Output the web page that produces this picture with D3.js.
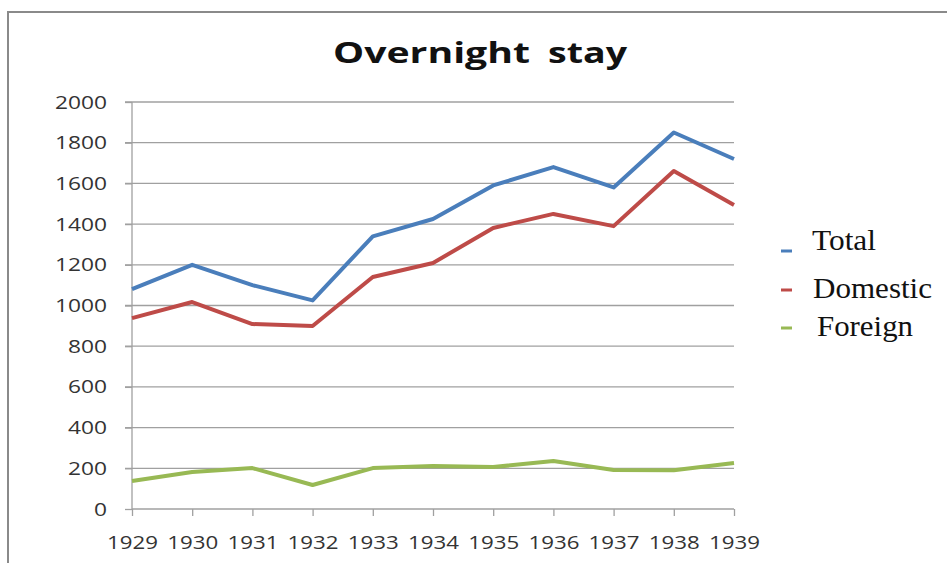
<!DOCTYPE html>
<html><head><meta charset="utf-8">
<script src="https://cdn.jsdelivr.net/npm/d3@7"></script>
<style>body{margin:0;background:#fff}svg{display:block}</style>
</head><body>
<svg id="c" width="947" height="563"></svg>
<script>
const years = ["1929","1930","1931","1932","1933","1934","1935","1936","1937","1938","1939"];
const total = [1080,1200,1100,1025,1340,1425,1590,1680,1580,1850,1720];
const domestic = [938,1017,909,899,1140,1209,1381,1450,1390,1661,1494];
const foreign = [138,182,201,118,201,211,206,236,192,190,226];
const yTicks = [0,200,400,600,800,1000,1200,1400,1600,1800,2000];
const seriesNames = ["Total","Domestic","Foreign"];
const colors = ["#4a7ebb","#be4b48","#98b954"];
const titleWords = ["Overnight","stay"];

const svg = d3.select("#c");
svg.append("path").attr("d","M8,563V12H947").attr("fill","none").attr("stroke","#8a8a8a").attr("stroke-width",2);

const x = d3.scalePoint().domain(years).range([132,734]);
const y = d3.scaleLinear().domain([0,2000]).range([509,102]);

svg.append("g").selectAll("line").data(yTicks.filter(d=>d>0)).join("line")
  .attr("x1",125).attr("x2",734).attr("y1",d=>y(d)).attr("y2",d=>y(d))
  .attr("stroke","#a0a0a0").attr("stroke-width",1.3);

const ya = svg.append("g").attr("transform","translate(132,0)")
  .call(d3.axisLeft(y).tickValues(yTicks).tickFormat(d3.format("d")).tickSize(7).tickPadding(18));
ya.select(".domain").attr("stroke","#a0a0a0").attr("stroke-width",1.3).attr("d","M0,102V509");
ya.selectAll(".tick line").attr("stroke","#a0a0a0").attr("stroke-width",1.3);
ya.selectAll("text").attr("font-family","'Open Sans',sans-serif").attr("font-size",19).attr("fill","#333")
  .attr("textLength",d=>13*String(d).length).attr("lengthAdjust","spacingAndGlyphs");

const xa = svg.append("g").attr("transform","translate(0,509)")
  .call(d3.axisBottom(x).tickSize(7).tickPadding(20));
xa.select(".domain").attr("stroke","#a0a0a0").attr("stroke-width",1.3).attr("d","M132,0H734");
xa.selectAll(".tick line").attr("stroke","#a0a0a0").attr("stroke-width",1.3);
xa.selectAll("text").attr("font-family","'Open Sans',sans-serif").attr("font-size",19).attr("fill","#333")
  .attr("textLength",51).attr("lengthAdjust","spacingAndGlyphs");

const data = [total,domestic,foreign];
const line = d3.line().x((d,i)=>x(years[i])).y(d=>y(d));
svg.append("g").selectAll("path").data(data).join("path")
  .attr("d",line).attr("fill","none").attr("stroke",(d,i)=>colors[i])
  .attr("stroke-width",4).attr("stroke-linejoin","round");

const t = svg.append("text").attr("y",63)
  .attr("font-family","'Open Sans',sans-serif").attr("font-weight","bold").attr("font-size",28)
  .attr("fill","#111");
t.append("tspan").attr("x",333).attr("textLength",197).attr("lengthAdjust","spacingAndGlyphs").text(titleWords[0]);
t.append("tspan").text(" ").attr("font-size",1);
t.append("tspan").attr("x",548).attr("textLength",79).attr("lengthAdjust","spacingAndGlyphs").text(titleWords[1]);

const ly = [251,290,328];
const tb = [250,298,336];
const lx = [812,813,817];
const lw = [64,119,96];
const lg = svg.append("g");
seriesNames.forEach((n,i)=>{
  lg.append("line").attr("x1",781).attr("x2",792).attr("y1",ly[i]).attr("y2",ly[i])
    .attr("stroke",colors[i]).attr("stroke-width",3);
  lg.append("text").attr("x",lx[i]).attr("y",tb[i])
    .attr("font-family","'Liberation Serif','Times New Roman',serif").attr("font-size",30)
    .attr("textLength",lw[i]).attr("lengthAdjust","spacingAndGlyphs")
    .attr("fill","#111").text(n);
});
</script>
</body></html>
